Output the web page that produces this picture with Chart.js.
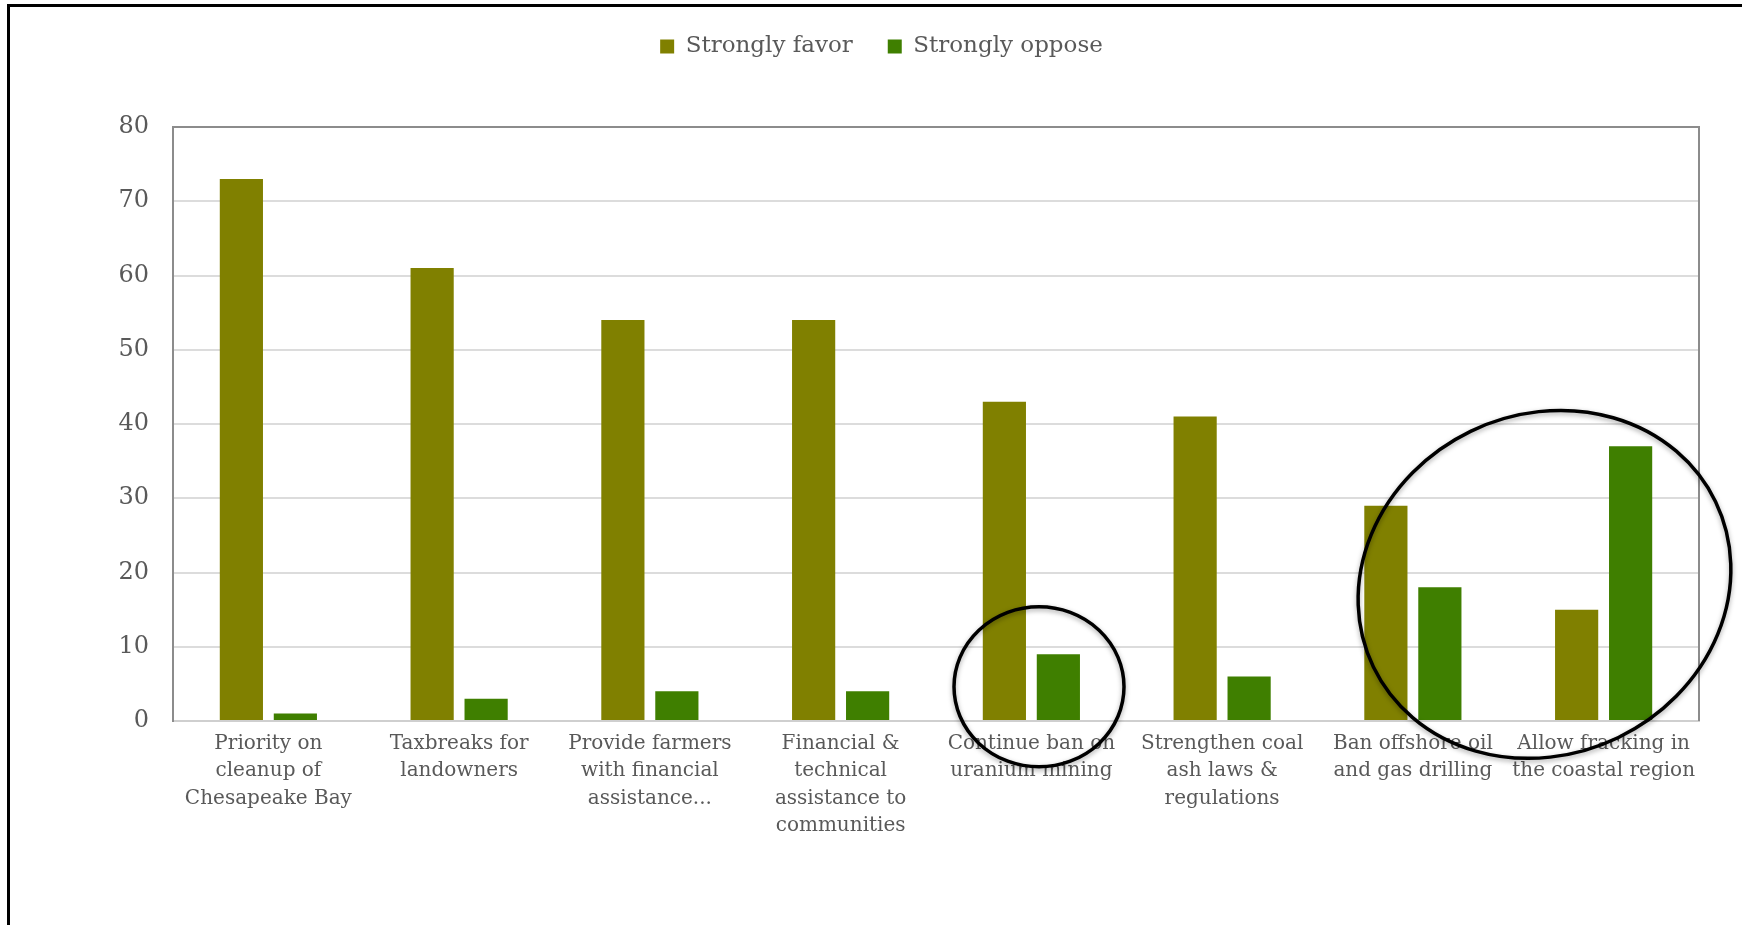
<!DOCTYPE html>
<html>
<head>
<meta charset="utf-8">
<script src="https://cdn.jsdelivr.net/npm/chart.js@4.4.1/dist/chart.umd.min.js"></script>
<style>
  html, body { margin: 0; padding: 0; background: #fff; }
  #wrap { position: relative; width: 1742px; height: 925px; }
  #frame {
    position: absolute; left: 7px; top: 4px; right: 0; bottom: 0;
    border-top: 3px solid #000; border-left: 3px solid #000;
    pointer-events: none;
  }
</style>
</head>
<body>
<div id="wrap">
  <canvas id="chart" width="1742" height="925"></canvas>
  <div id="frame"></div>
</div>
<script>
// ---- data ----
const categories = [
    ['Priority on', 'cleanup of', 'Chesapeake Bay'],
    ['Taxbreaks for', 'landowners'],
    ['Provide farmers', 'with financial', 'assistance...'],
    ['Financial &', 'technical', 'assistance to', 'communities'],
    ['Continue ban on', 'uranium mining'],
    ['Strengthen coal', 'ash laws &', 'regulations'],
    ['Ban offshore oil', 'and gas drilling'],
    ['Allow fracking in', 'the coastal region']
];
const stronglyFavor  = [73, 61, 54, 54, 43, 41, 29, 15];
const stronglyOppose = [1, 3, 4, 4, 9, 6, 18, 37];
const yTicks = [0, 10, 20, 30, 40, 50, 60, 70, 80];

// hand-drawn circles on the picture: category index / value for centre, radii in px
const circleNotes = [
    { cat: 4.04, value: 4.6, rx: 85, ry: 80, rot: 0 },
    { cat: 6.69, value: 18.4, rx: 190, ry: 170, rot: -0.45 }
];

const FONT = 'DejaVu Serif';
const TEXT = '#595959';

// extra room under the legend
const legendSpacer = {
    id: 'legendSpacer',
    beforeInit(chart) {
        const fit = chart.legend.fit;
        chart.legend.fit = function () {
            fit.bind(chart.legend)();
            this.height += 59;
        };
    }
};

// top + right edges of the plot box
const plotFrame = {
    id: 'plotFrame',
    beforeDatasetsDraw(chart) {
        const { ctx, chartArea: a } = chart;
        ctx.save();
        ctx.strokeStyle = '#8c8c8c';
        ctx.lineWidth = 2;
        ctx.beginPath();
        ctx.moveTo(a.left, a.top);
        ctx.lineTo(a.right, a.top);
        ctx.lineTo(a.right, a.bottom);
        ctx.stroke();
        ctx.restore();
    }
};

// black ellipses drawn over the chart
const circles = {
    id: 'circles',
    afterDraw(chart) {
        const { ctx, scales } = chart;
        ctx.save();
        ctx.strokeStyle = '#000';
        ctx.lineWidth = 3.5;
        ctx.shadowColor = 'rgba(0,0,0,0.35)';
        ctx.shadowBlur = 5;
        ctx.shadowOffsetY = 2;
        circleNotes.forEach(c => {
            const cx = scales.x.getPixelForValue(c.cat);
            const cy = scales.y.getPixelForValue(c.value);
            ctx.beginPath();
            ctx.ellipse(cx, cy, c.rx, c.ry, c.rot, 0, Math.PI * 2);
            ctx.stroke();
        });
        ctx.restore();
    }
};

new Chart(document.getElementById('chart'), {
    type: 'bar',
    data: {
        labels: categories,
        datasets: [
            {
                label: 'Strongly favor',
                data: stronglyFavor,
                backgroundColor: '#808000',
                categoryPercentage: 0.566,
                barPercentage: 0.8
            },
            {
                label: 'Strongly oppose',
                data: stronglyOppose,
                backgroundColor: '#3f7f00',
                categoryPercentage: 0.566,
                barPercentage: 0.8
            }
        ]
    },
    options: {
        responsive: false,
        animation: false,
        layout: { padding: { left: 64, right: 43, top: 0, bottom: 0 } },
        scales: {
            x: {
                grid: { display: false, drawTicks: false },
                border: { color: '#cfcfcf', width: 2 },
                ticks: {
                    color: TEXT,
                    padding: 9,
                    maxRotation: 0,
                    autoSkip: false,
                    font: { family: FONT, size: 20, lineHeight: 1.37 }
                },
                afterFit(s) { s.height = 204; }
            },
            y: {
                min: 0,
                max: 80,
                afterBuildTicks(s) { s.ticks = yTicks.map(v => ({ value: v })); },
                grid: { color: '#dcdcdc', lineWidth: 2, drawTicks: false },
                border: { color: '#8c8c8c', width: 2 },
                ticks: {
                    color: TEXT,
                    padding: 24,
                    font: { family: FONT, size: 24 }
                },
                afterFit(s) { s.width = 109; }
            }
        },
        plugins: {
            legend: {
                position: 'top',
                labels: {
                    color: TEXT,
                    boxWidth: 14,
                    boxHeight: 14,
                    padding: 35,
                    font: { family: FONT, size: 23 }
                }
            },
            tooltip: { enabled: false }
        }
    },
    plugins: [legendSpacer, plotFrame, circles]
});
</script>
</body>
</html>
